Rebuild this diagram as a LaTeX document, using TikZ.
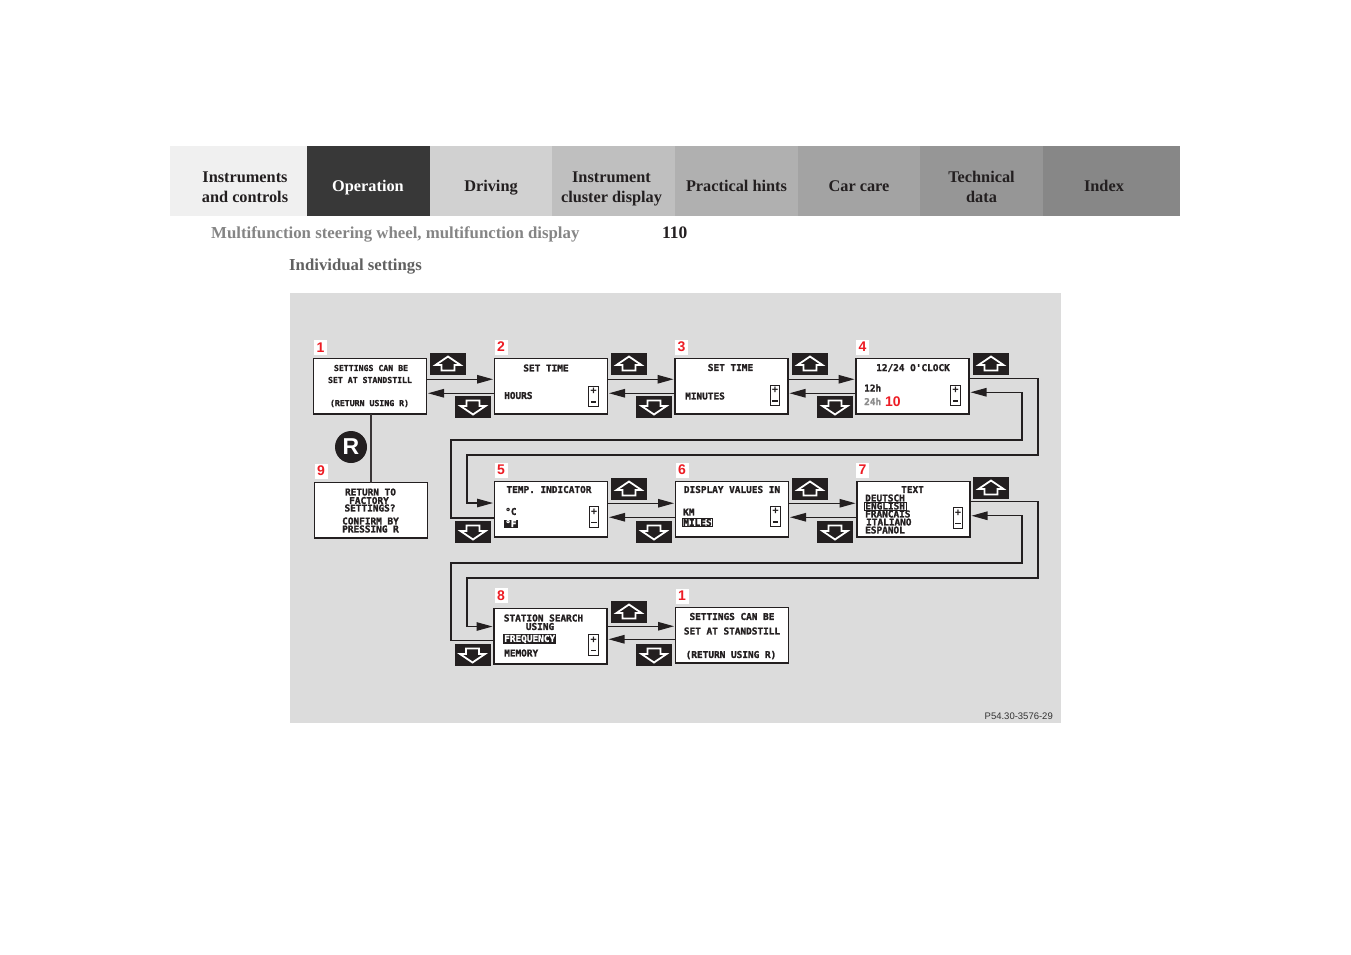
\documentclass[tikz,border=0pt]{standalone}
\usepackage{fontspec}
\setmainfont{Liberation Serif}
\newfontfamily\lcdfont{DejaVu Sans Mono}[BoldFeatures={FakeBold=1.6}]
\newfontfamily\tagfont{Liberation Sans}
\usepackage{xcolor}
\usetikzlibrary{positioning,arrows.meta}

\definecolor{panelgrey}{HTML}{DCDCDC}
\definecolor{inkdark}{HTML}{231F20}
\definecolor{badgered}{HTML}{ED1C24}

\newcommand{\plusminus}{+\\[-0.5pt]\rule[1.5pt]{5.5pt}{1.6pt}}

\tikzset{
    tab/.style={minimum height=70pt, inner sep=0pt, outer sep=0pt},
    tablabel/.style={inner sep=0pt, align=center, text=inkdark, font=\fontsize{16.3}{20}\selectfont\bfseries},
    screen/.style={draw=inkdark, line width=1.5pt, fill=white, minimum width=113pt, minimum height=55.5pt, inner sep=0pt, outer sep=0pt},
    lcd/.style={inner sep=0pt, text=inkdark, font=\fontsize{9.4}{10}\selectfont\lcdfont\bfseries},
    lcdsmall/.style={lcd, font=\fontsize{8.2}{9}\selectfont\lcdfont\bfseries},
    picked/.style={lcd, draw=inkdark, line width=0.7pt, fill=white, inner xsep=1pt, inner ysep=0.5pt},
    inverted/.style={lcd, fill=inkdark, text=white, inner xsep=1pt, inner ysep=0.5pt},
    gauge/.style={draw=inkdark, line width=0.9pt, fill=white, minimum width=9.5pt, minimum height=20.5pt, inner sep=0pt, align=center, text=inkdark,
        font=\fontsize{11}{10}\selectfont\tagfont\bfseries},
    badge/.style={fill=white, text=badgered, minimum width=13pt, minimum height=15pt, inner sep=0pt,
        font=\fontsize{14}{14}\selectfont\tagfont\bfseries},
    btn/.style={fill=inkdark, minimum width=36pt, minimum height=22pt, inner sep=0pt},
    upbtn/.style={btn, path picture={
        \draw[white, line width=1.8pt, line join=miter] ([shift={(0pt,7.5pt)}]path picture bounding box.center) -- ++(12.5pt,-8.5pt) -- ++(-6pt,0pt) -- ++(0pt,-5.5pt) -- ++(-13pt,0pt) -- ++(0pt,5.5pt) -- ++(-6pt,0pt) -- cycle;}},
    downbtn/.style={btn, path picture={
        \draw[white, line width=1.8pt, line join=miter] ([shift={(0pt,-7.5pt)}]path picture bounding box.center) -- ++(12.5pt,8.5pt) -- ++(-6pt,0pt) -- ++(0pt,5.5pt) -- ++(-13pt,0pt) -- ++(0pt,-5.5pt) -- ++(-6pt,0pt) -- cycle;}},
    flow/.style={draw=inkdark, line width=1.2pt, -{Triangle[length=16pt,width=8.5pt]}, shorten >=1.5pt},
    wire/.style={draw=inkdark!90, line width=1.2pt},
}

\begin{document}
\begin{tikzpicture}[x=1pt, y=-1pt, node distance=0pt]
    \useasboundingbox (0,0) rectangle (1351,954);

    \node[tab, fill=black!6, minimum width=137pt, anchor=north west] (instruments) at (170,146) {};
    \node[tab, fill=black!78, minimum width=123pt, right=of instruments] (operation) {};
    \node[tab, fill=black!18, minimum width=122pt, right=of operation] (driving) {};
    \node[tab, fill=black!25, minimum width=123pt, right=of driving] (cluster) {};
    \node[tab, fill=black!31, minimum width=123pt, right=of cluster] (hints) {};
    \node[tab, fill=black!36, minimum width=122pt, right=of hints] (carcare) {};
    \node[tab, fill=black!41, minimum width=123pt, right=of carcare] (techdata) {};
    \node[tab, fill=black!47, minimum width=137pt, right=of techdata] (index) {};

    \node[tablabel] (instrumentstext) at (245,187) {Instruments\\and controls};
    \node[tablabel, text=white] (operationtext) at (368,188) {Operation};
    \node[tablabel] (drivingtext) at (491,188) {Driving};
    \node[tablabel] (clustertext) at (611.5,189) {Instrument\\cluster display};
    \node[tablabel] (hintstext) at (736.5,186) {Practical hints};
    \node[tablabel] (carcaretext) at (859,186) {Car care};
    \node[tablabel] (techdatatext) at (981.5,187) {Technical\\data};
    \node[tablabel] (indextext) at (1104,186) {Index};

    \node[anchor=west, inner sep=0pt, text=black!48, font=\fontsize{16.8}{20}\selectfont\bfseries] (section) at (211,234.5) {Multifunction steering wheel, multifunction display};
    \node[anchor=west, inner sep=0pt, text=inkdark, font=\fontsize{17.5}{20}\selectfont\bfseries] (pagenum) at (662,233) {110};
    \node[anchor=west, inner sep=0pt, text=black!62, font=\fontsize{16.75}{20}\selectfont\bfseries] (heading) at (289,267) {Individual settings};

    \fill[panelgrey] (290,293) rectangle (1061,723);

    \node[screen, anchor=north west] (set1) at (313.5,358.5) {};
    \node[screen, anchor=north west] (hours) at (494.5,358.5) {};
    \node[screen, anchor=north west] (minutes) at (675,358.5) {};
    \node[screen, anchor=north west] (clock) at (856,358.5) {};
    \node[screen, anchor=north west] (factory) at (314.5,482.5) {};
    \node[screen, anchor=north west] (temp) at (494.5,481.5) {};
    \node[screen, anchor=north west] (values) at (675.5,481.5) {};
    \node[screen, anchor=north west] (lang) at (857,481.5) {};
    \node[screen, anchor=north west] (station) at (494,608.5) {};
    \node[screen, anchor=north west] (set2) at (675.5,607.5) {};

    \draw[flow] ([yshift=7pt]set1.east) -- ([yshift=7pt]hours.west);
    \draw[flow] ([yshift=-7pt]hours.west) -- ([yshift=-7pt]set1.east);
    \draw[flow] ([yshift=7pt]hours.east) -- ([yshift=7pt]minutes.west);
    \draw[flow] ([yshift=-7pt]minutes.west) -- ([yshift=-7pt]hours.east);
    \draw[flow] ([yshift=7pt]minutes.east) -- ([yshift=7pt]clock.west);
    \draw[flow] ([yshift=-7pt]clock.west) -- ([yshift=-7pt]minutes.east);

    \draw[flow] ([yshift=6pt]temp.east) -- ([yshift=6pt]values.west);
    \draw[flow] ([yshift=-8pt]values.west) -- ([yshift=-8pt]temp.east);
    \draw[flow] ([yshift=6pt]values.east) -- ([yshift=6pt]lang.west);
    \draw[flow] ([yshift=-8pt]lang.west) -- ([yshift=-8pt]values.east);

    \draw[flow] ([yshift=10pt]station.east) -- ([yshift=10pt]set2.west |- station.east);
    \draw[flow] ([yshift=-3pt]set2.west |- station.east) -- ([yshift=-3pt]station.east);

    \coordinate (backA) at (1022,440);
    \coordinate (backB) at (451,518);
    \coordinate (forthA) at (1038,455);
    \coordinate (forthB) at (467,503);
    \draw[flow] (backB -| temp.west) -- (backB) |- (backA) |- ([yshift=-6pt]clock.east);
    \draw[flow] ([yshift=7.5pt]clock.east) -| (forthA) -| (forthB) -- (forthB -| temp.west);

    \coordinate (backC) at (1022,563);
    \coordinate (backD) at (451,640.5);
    \coordinate (forthC) at (1038,578);
    \coordinate (forthD) at (467,626.5);
    \draw[flow] (backD -| station.west) -- (backD) |- (backC) |- ([yshift=-6.5pt]lang.east);
    \draw[flow] ([yshift=7.5pt]lang.east) -| (forthC) -| (forthD) -- (forthD -| station.west);

    \draw[wire] ([xshift=1pt]set1.south) -- ([xshift=1pt]set1.south |- factory.north);
    \node[circle, fill=inkdark, text=white, minimum size=32pt, inner sep=0pt, font=\fontsize{23}{23}\selectfont\tagfont\bfseries] (reset) at (351,447) {R};

    \node[upbtn] (up1) at (448,364) {};
    \node[upbtn] (up2) at (629,364) {};
    \node[upbtn] (up3) at (810,364) {};
    \node[upbtn] (up4) at (991,364) {};
    \node[upbtn] (up5) at (629,489) {};
    \node[upbtn] (up6) at (810,489) {};
    \node[upbtn] (up7) at (991,488) {};
    \node[upbtn] (up8) at (629,612) {};
    \node[downbtn] (down1) at (473,407) {};
    \node[downbtn] (down2) at (654,407) {};
    \node[downbtn] (down3) at (835,407) {};
    \node[downbtn] (down4) at (473,532) {};
    \node[downbtn] (down5) at (654,532) {};
    \node[downbtn] (down6) at (835,532) {};
    \node[downbtn] (down7) at (472.5,655) {};
    \node[downbtn] (down8) at (654,655) {};

    \node[badge] (badge1) at (320.5,347.5) {1};
    \node[badge] (badge2) at (501,347) {2};
    \node[badge] (badge3) at (681.5,347) {3};
    \node[badge] (badge4) at (862.5,347) {4};
    \node[badge] (badge9) at (321,471) {9};
    \node[badge] (badge5) at (501,470) {5};
    \node[badge] (badge6) at (682,470) {6};
    \node[badge] (badge7) at (862.5,470) {7};
    \node[badge] (badge8) at (501,595.5) {8};
    \node[badge] (badge1b) at (682,596) {1};

    \node[lcdsmall] (s1a) at (371,368) {SETTINGS CAN BE};
    \node[lcdsmall] (s1b) at (370,380) {SET AT STANDSTILL};
    \node[lcdsmall] (s1c) at (369.5,403.5) {(RETURN USING R)};

    \node[lcd] (h1) at (546,368) {SET TIME};
    \node[lcd, anchor=west] (h2) at (504,395.5) {HOURS};
    \node[gauge] (g2) at (593.5,396.5) {\plusminus};

    \node[lcd] (m1) at (730.5,367.5) {SET TIME};
    \node[lcd, anchor=west] (m2) at (685,396) {MINUTES};
    \node[gauge] (g3) at (775,395.5) {\plusminus};

    \node[lcd] (c1) at (913,368) {12/24 O'CLOCK};
    \node[lcd, anchor=west] (c2) at (864,388) {12h};
    \node[lcd, anchor=west, text=black!45] (c3) at (864,401.5) {24h};
    \node[anchor=west, inner sep=0pt, text=badgered, font=\fontsize{14}{14}\selectfont\tagfont\bfseries] (c4) at (885,402) {10};
    \node[gauge] (g4) at (955.5,395.5) {\plusminus};

    \node[lcd] (f1) at (370.5,492) {RETURN TO};
    \node[lcd] (f2) at (369,500.5) {FACTORY};
    \node[lcd] (f3) at (370,508) {SETTINGS?};
    \node[lcd] (f4) at (370.5,521) {CONFIRM BY};
    \node[lcd] (f5) at (370.5,529) {PRESSING R};

    \node[lcd] (t1) at (549,489.5) {TEMP. INDICATOR};
    \node[lcd, anchor=west] (t2) at (505,511.5) {°C};
    \node[inverted, anchor=west] (t3) at (504,523.5) {°F};
    \node[gauge] (g5) at (594,517) {\plusminus};

    \node[lcd] (v1) at (732,489.5) {DISPLAY VALUES IN};
    \node[lcd, anchor=west] (v2) at (683,512) {KM};
    \node[picked, anchor=west] (v3) at (682,522.5) {MILES};
    \node[gauge] (g6) at (775.5,516.5) {\plusminus};

    \node[lcd] (l1) at (912.5,489.5) {TEXT};
    \node[lcd, anchor=west] (l2) at (865,498) {DEUTSCH};
    \node[picked, anchor=west] (l3) at (864,506) {ENGLISH};
    \node[lcd, anchor=west] (l4) at (865,514) {FRANCAIS};
    \node[lcd, anchor=west] (l5) at (866,522) {ITALIANO};
    \node[lcd, anchor=west] (l6) at (865,530) {ESPANOL};
    \node[gauge] (g7) at (958,518) {\plusminus};

    \node[lcd] (r1) at (543.5,618) {STATION SEARCH};
    \node[lcd] (r2) at (540,626.5) {USING};
    \node[inverted, anchor=west] (r3) at (503,639) {FREQUENCY};
    \node[lcd, anchor=west] (r4) at (504,653) {MEMORY};
    \node[gauge] (g8) at (593.5,645) {\plusminus};

    \node[lcd] (b1) at (732,616.5) {SETTINGS CAN BE};
    \node[lcd] (b2) at (732,631) {SET AT STANDSTILL};
    \node[lcd] (b3) at (731,655) {(RETURN USING R)};

    \node[anchor=east, inner sep=0pt, text=black!80, font=\fontsize{9.5}{9}\selectfont\tagfont] (code) at (1053,716) {P54.30-3576-29};
\end{tikzpicture}
\end{document}
